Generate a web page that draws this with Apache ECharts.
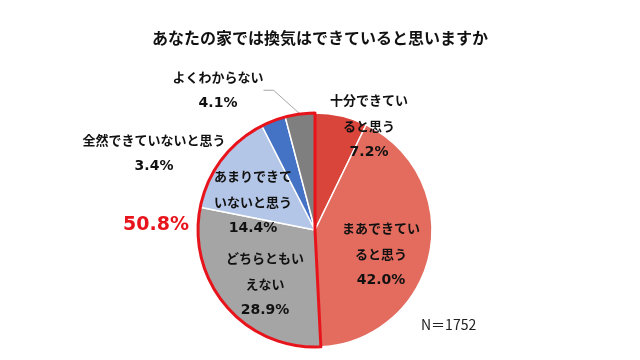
<!DOCTYPE html>
<html><head><meta charset="utf-8">
<script src="https://cdn.jsdelivr.net/npm/echarts@6/dist/echarts.min.js"></script>
<style>html,body{margin:0;padding:0;background:#fff}#c{width:640px;height:360px}</style>
</head><body><div id="c"></div>
<script>
const titleText = 'あなたの家では換気はできていると思いますか';
const categories = ['十分できていると思う','まあできていると思う','どちらともいえない','あまりできていないと思う','全然できていないと思う','よくわからない'];
const labelTexts = ['十分できてい\nると思う','まあできてい\nると思う','どちらともい\nえない','あまりできて\nいないと思う','全然できていないと思う','よくわからない'];
const values = [7.2, 42.0, 28.9, 14.4, 3.4, 4.1];
const colors = ['#d9453b','#e36c5f','#a5a5a5','#b4c6e7','#4472c4','#7f7f7f'];
const sampleNote = 'N＝1752';
const highlightStart = 2; // slices from index 2 onward are highlighted

const highlightSum = values.slice(highlightStart).reduce((a,b)=>a+b,0);
const restSum = values.slice(0,highlightStart).reduce((a,b)=>a+b,0);

// label block centres (layout only)
const labelPos = [[369,126],[381,254],[265,284],[253,202],[154,153],[218,90]];

const chart = echarts.init(document.getElementById('c'));
const font = '"Noto Sans CJK JP", "Noto Sans", sans-serif';
const numFont = '"DejaVu Sans", "Noto Sans CJK JP", sans-serif';
chart.setOption({
  animation:false,
  title:[{text:titleText, left:'center', top:25, textStyle:{fontFamily:font, fontSize:16, fontWeight:'bold', color:'#111'}},
         {text:sampleNote, left:416, top:313, textStyle:{fontFamily:font, fontSize:14, fontWeight:'normal', color:'#222'}}],
  series:[{
    type:'pie', center:[315,230], radius:[0,117], startAngle:90, clockwise:true,
    data: categories.map((n,i)=>({name:n, value:values[i], itemStyle:{color:colors[i]},
      labelLine:{show:i===5, lineStyle:{color:'#a6a6a6', width:1}}})),
    itemStyle:{borderColor:'#fff', borderWidth:1.5},
    label:{show:true, position:'outside',
      formatter:p=>labelTexts[p.dataIndex].split('\n').map(s=>'{t|'+s+'}').join('\n')+'\n{p|'+p.value.toFixed(1)+'%}',
      color:'#111', align:'center',
      rich:{t:{fontFamily:font, fontSize:13, fontWeight:'bold', color:'#111', lineHeight:26, align:'center'},
            p:{fontFamily:numFont, fontSize:14, fontWeight:'bold', color:'#111', lineHeight:26, align:'center'}}},
    labelLine:{show:false, length:10, length2:10},
    labelLayout:p=>({x:labelPos[p.dataIndex][0], y:labelPos[p.dataIndex][1], align:'center', verticalAlign:'middle'}),
    emphasis:{disabled:true}
  },{
    type:'pie', center:[315,230], radius:[0,117], startAngle:90, clockwise:true, silent:true, z:5,
    data:[{name:'rest', value:restSum, itemStyle:{color:'rgba(0,0,0,0)', borderWidth:0}, label:{show:false}},
          {name:'highlight', value:highlightSum, itemStyle:{color:'rgba(0,0,0,0)', borderColor:'#e8141c', borderWidth:3},
           label:{show:true, formatter:p=>p.value.toFixed(1)+'%', fontFamily:numFont, fontSize:19, fontWeight:'bold', color:'#e8141c'}}],
    labelLine:{show:false},
    labelLayout:p=>({x:156, y:225, align:'center', verticalAlign:'middle'}),
    emphasis:{disabled:true}
  }]
});
</script></body></html>
